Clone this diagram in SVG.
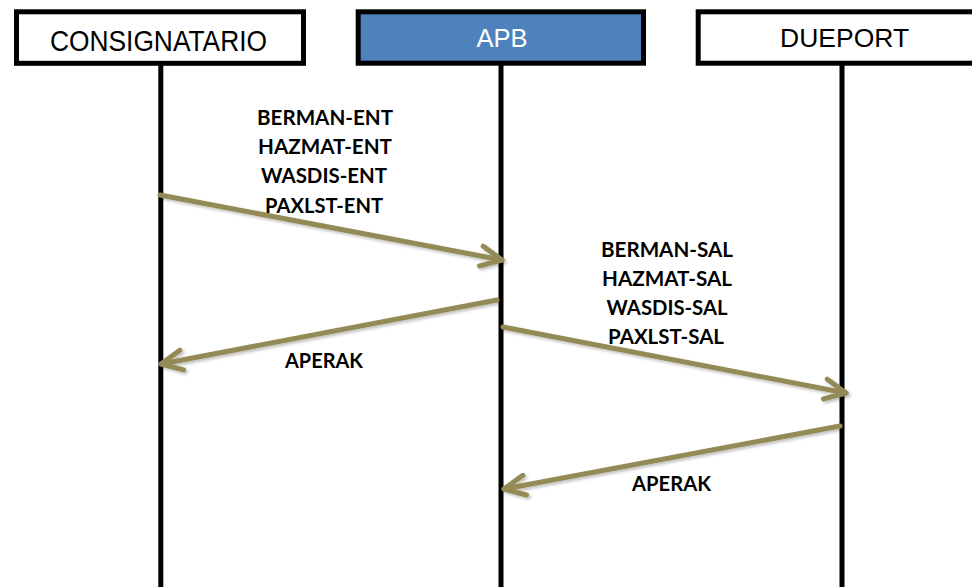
<svg xmlns="http://www.w3.org/2000/svg" width="972" height="587" viewBox="0 0 972 587">
<style>
.box{fill:#fff;stroke:#000;stroke-width:5}
.hdr{font-family:"Liberation Sans",Arial,sans-serif;fill:#000;text-anchor:middle}
.life{stroke:#000;stroke-width:5}
.msg{stroke:#948A54;stroke-width:5;stroke-linecap:round;fill:none;filter:url(#sh)}
.lbl{font-family:Lato,"Liberation Sans",sans-serif;font-weight:700;font-size:20.5px;fill:#000;text-anchor:middle}
</style>
<defs>
<filter id="sh" x="-10%" y="-50%" width="120%" height="200%">
<feDropShadow dx="2" dy="2" stdDeviation="1.5" flood-color="#000" flood-opacity="0.25"/>
</filter>
<marker id="arr" markerUnits="userSpaceOnUse" markerWidth="40" markerHeight="40" refX="0" refY="0" viewBox="-30 -15 40 30" orient="auto" overflow="visible">
<path d="M-21,-10 L0,0 L-21,10" fill="none" stroke="#948A54" stroke-width="5" stroke-linecap="round" stroke-linejoin="round"/>
</marker>
</defs>
<rect width="972" height="587" fill="#fff"/>
<g id="lifelines">
<line class="life" x1="160.8" y1="64" x2="160.8" y2="587"/>
<line class="life" x1="501" y1="64" x2="501" y2="587"/>
<line class="life" x1="842" y1="64" x2="842" y2="587"/>
</g>
<g id="consignatario">
<rect class="box" x="16.5" y="11.8" width="287" height="51.5"/>
<text class="hdr" x="158.5" y="51" font-size="30" textLength="217" lengthAdjust="spacingAndGlyphs">CONSIGNATARIO</text>
</g>
<g id="apb">
<rect class="box" x="358.2" y="11.8" width="285.3" height="51.4" style="fill:#4F81BD"/>
<text class="hdr" x="502" y="46.7" font-size="25.5" style="fill:#fff">APB</text>
</g>
<g id="dueport">
<rect class="box" x="698.2" y="11.8" width="300" height="51.4"/>
<text class="hdr" x="844.6" y="46.7" font-size="26" textLength="129" lengthAdjust="spacingAndGlyphs">DUEPORT</text>
</g>
<g id="connectors">
<line class="msg" x1="160" y1="195" x2="502" y2="260" marker-end="url(#arr)"/>
<line class="msg" x1="497" y1="300" x2="161" y2="364" marker-end="url(#arr)"/>
<line class="msg" x1="503" y1="327" x2="846" y2="393" marker-end="url(#arr)"/>
<line class="msg" x1="840" y1="426" x2="504" y2="489" marker-end="url(#arr)"/>
</g>
<g id="labels">
<text class="lbl" x="325" y="125" textLength="136" lengthAdjust="spacingAndGlyphs">BERMAN-ENT</text>
<text class="lbl" x="325" y="154" textLength="134" lengthAdjust="spacingAndGlyphs">HAZMAT-ENT</text>
<text class="lbl" x="324" y="183" textLength="126" lengthAdjust="spacingAndGlyphs">WASDIS-ENT</text>
<text class="lbl" x="324" y="213" textLength="118" lengthAdjust="spacingAndGlyphs">PAXLST-ENT</text>
<text class="lbl" x="324" y="368" textLength="78" lengthAdjust="spacingAndGlyphs">APERAK</text>
<text class="lbl" x="667" y="257" textLength="132" lengthAdjust="spacingAndGlyphs">BERMAN-SAL</text>
<text class="lbl" x="667" y="286" textLength="130" lengthAdjust="spacingAndGlyphs">HAZMAT-SAL</text>
<text class="lbl" x="667" y="315" textLength="121" lengthAdjust="spacingAndGlyphs">WASDIS-SAL</text>
<text class="lbl" x="666" y="344" textLength="116" lengthAdjust="spacingAndGlyphs">PAXLST-SAL</text>
<text class="lbl" x="671.5" y="491" textLength="79" lengthAdjust="spacingAndGlyphs">APERAK</text>
</g>
</svg>
